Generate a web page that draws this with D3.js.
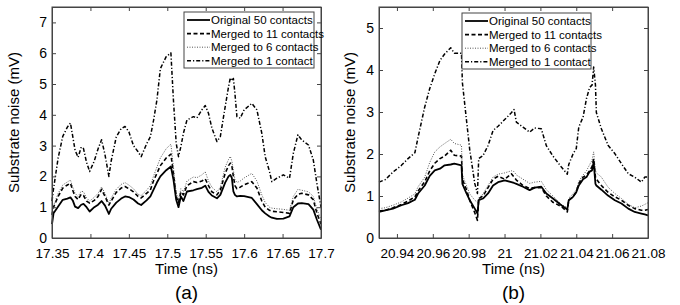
<!DOCTYPE html>
<html>
<head>
<meta charset="utf-8">
<script src="https://cdn.jsdelivr.net/npm/d3@7"></script>
<style>
  body { margin: 0; background: #fff; }
  svg text { font-family: "Liberation Sans", Arial, sans-serif; fill: #000; }
</style>
</head>
<body>
<svg id="chart"></svg>
<script>
// ---- data: panel (a) ----
const timeA = [17.350,17.352,17.358,17.364,17.370,17.374,17.377,17.380,17.384,17.388,17.391,17.395,17.399,17.405,17.410,17.4145,17.419,17.424,17.427,17.4336,17.440,17.445,17.450,17.456,17.462,17.466,17.473,17.478,17.482,17.4865,17.491,17.4986,17.5047,17.508,17.5116,17.5146,17.5177,17.521,17.5256,17.534,17.5386,17.545,17.5494,17.5536,17.558,17.5646,17.569,17.5753,17.5797,17.582,17.584,17.586,17.588,17.5906,17.5949,17.600,17.610,17.6166,17.623,17.6274,17.633,17.636,17.6426,17.651,17.659,17.664,17.670,17.675,17.6837,17.690,17.6946,17.700];
const origA  = [0.45,0.8,1.02,1.24,1.28,1.32,1.22,1.02,0.97,1.08,1.11,1.0,0.86,1.0,1.08,1.2,1.05,0.78,0.95,1.15,1.28,1.35,1.33,1.25,1.12,1.07,1.22,1.35,1.56,1.8,2.0,2.2,2.32,1.9,1.24,1.0,1.35,1.2,1.51,1.55,1.59,1.63,1.7,1.5,1.38,1.29,1.4,1.8,2.0,2.05,1.95,1.51,1.4,1.35,1.37,1.36,1.3,1.1,0.9,0.8,0.7,0.66,0.62,0.63,0.7,1.0,1.12,1.13,1.1,0.92,0.6,0.27];
const m11A   = [0.75,1.0,1.35,1.62,1.72,1.78,1.55,1.35,1.25,1.42,1.38,1.2,1.13,1.22,1.35,1.58,1.35,1.07,1.2,1.48,1.62,1.67,1.6,1.5,1.35,1.3,1.45,1.56,1.85,2.1,2.35,2.6,2.72,2.1,1.35,1.15,1.5,1.4,1.7,1.83,1.8,1.85,1.92,1.7,1.5,1.4,1.55,2.1,2.35,2.43,2.35,2.0,1.7,1.6,1.65,1.73,1.83,1.62,1.2,1.0,0.9,0.87,0.85,0.83,0.8,1.24,1.42,1.45,1.4,1.24,0.81,0.45];
const m6A    = [0.8,1.05,1.45,1.72,1.82,1.88,1.65,1.45,1.35,1.52,1.5,1.3,1.2,1.32,1.45,1.66,1.45,1.12,1.3,1.58,1.74,1.8,1.72,1.6,1.42,1.38,1.55,1.7,2.0,2.3,2.6,2.9,3.05,2.3,1.45,1.25,1.6,1.5,1.85,1.98,1.96,2.05,2.15,1.85,1.65,1.5,1.65,2.3,2.55,2.65,2.5,2.2,1.9,1.8,1.85,1.95,2.1,1.85,1.4,1.15,1.0,0.97,0.95,0.93,0.9,1.35,1.58,1.55,1.5,1.35,0.95,0.6];
const m1A    = [1.2,1.6,2.6,3.3,3.6,3.73,3.3,2.85,2.62,2.95,2.9,2.45,2.16,2.5,2.9,3.19,2.7,2.0,2.5,3.28,3.55,3.62,3.45,3.0,2.8,2.64,3.05,3.29,3.8,4.48,5.5,5.89,6.01,4.48,3.08,2.64,2.97,3.4,3.83,3.94,3.9,4.16,4.3,4.05,3.57,3.13,3.29,4.26,4.91,5.2,5.1,5.18,4.7,3.94,3.89,4.16,4.37,4.16,3.4,2.64,2.16,1.83,1.94,2.05,1.94,2.75,3.35,3.18,3.02,2.53,1.78,1.0];

// ---- data: panel (b) ----
const timeB = [20.930,20.9335,20.9378,20.9425,20.9462,20.950,20.9518,20.9555,20.9583,20.9611,20.964,20.9666,20.970,20.972,20.976,20.9765,20.9788,20.9806,20.9834,20.9849,20.9856,20.988,20.9908,20.9936,20.9964,21.0001,21.0038,21.0053,21.0066,21.0103,21.014,21.0168,21.0205,21.0233,21.027,21.0317,21.035,21.0358,21.0382,21.040,21.0414,21.0438,21.0457,21.0475,21.0488,21.0497,21.0507,21.0512,21.054,21.0577,21.0615,21.0652,21.069,21.0726,21.0763,21.0782,21.080];
const origB  = [0.62,0.66,0.70,0.78,0.83,0.91,1.06,1.25,1.48,1.61,1.65,1.73,1.75,1.77,1.73,1.29,1.06,0.9,0.70,0.58,0.9,0.94,1.06,1.25,1.33,1.37,1.33,1.31,1.29,1.22,1.14,1.20,1.22,1.06,0.94,0.78,0.68,0.90,0.98,1.09,1.25,1.4,1.45,1.58,1.61,1.81,1.29,1.25,1.15,1.01,0.90,0.82,0.70,0.62,0.58,0.56,0.54];
const m11B   = [0.64,0.66,0.72,0.8,0.88,0.98,1.12,1.34,1.6,1.78,1.89,1.95,2.09,1.97,1.95,1.4,1.15,0.9,0.6,0.42,0.94,1.0,1.2,1.4,1.47,1.4,1.53,1.45,1.38,1.25,1.18,1.2,1.2,1.0,0.85,0.75,0.62,0.9,0.98,1.1,1.3,1.45,1.5,1.6,1.7,1.89,1.45,1.4,1.25,1.09,0.98,0.9,0.78,0.70,0.66,0.66,0.68];
const m6B    = [0.7,0.72,0.78,0.86,0.95,1.05,1.22,1.45,1.8,2.05,2.17,2.25,2.35,2.25,2.21,1.5,1.25,1.05,0.9,0.85,0.95,1.05,1.25,1.45,1.52,1.55,1.6,1.58,1.5,1.4,1.3,1.33,1.35,1.15,1.0,0.8,0.72,0.95,1.05,1.15,1.35,1.5,1.6,1.75,1.85,2.05,1.6,1.55,1.45,1.21,1.06,0.94,0.8,0.72,0.76,0.8,0.84];
const m1B    = [1.33,1.39,1.57,1.73,1.89,2.03,2.40,3.12,3.56,3.91,4.23,4.38,4.53,4.40,4.40,3.7,2.8,2.1,1.3,1.06,1.89,1.96,2.2,2.56,2.66,2.82,2.98,3.06,2.76,2.64,2.52,2.62,2.60,2.2,1.95,1.69,1.52,1.75,2.0,2.13,2.64,2.88,3.32,3.59,3.64,4.07,3.64,2.99,2.60,2.21,2.01,1.77,1.53,1.45,1.33,1.45,1.45];

// ---- ticks / labels ----
const ticksXA = [17.35,17.4,17.45,17.5,17.55,17.6,17.65,17.7];
const ticksYA = [0,1,2,3,4,5,6,7];
const ticksXB = [20.94,20.96,20.98,21,21.02,21.04,21.06,21.08];
const ticksYB = [0,1,2,3,4,5];
const legendNames = ["Original 50 contacts","Merged to 11 contacts","Merged to 6 contacts","Merged to 1 contact"];

// line styles for the 4 series
const styles = [
  {dash: null,        width: 1.8, color: "#000"},
  {dash: "4,2.5",     width: 1.6, color: "#000"},
  {dash: "1,1.5",     width: 1.0, color: "#555"},
  {dash: "4,2,1.2,2", width: 1.5, color: "#000"}
];

const svg = d3.select("#chart").attr("width", 680).attr("height", 305);

function drawPanel(opt) {
    const x = d3.scaleLinear().domain(opt.xDomain).range([opt.left, opt.right]);
    const y = d3.scaleLinear().domain(opt.yDomain).range([opt.bottom, opt.top]);
    const g = svg.append("g");

    const line = d3.line()
        .x(function(d){ return x(d[0]); })
        .y(function(d){ return y(d[1]); });

    // draw dash-dot first, solid last
    [3, 1, 2, 0].forEach(function(k) {
        const pts = opt.time.map(function(t, i){ return [t, opt.series[k][i]]; });
        g.append("path")
            .datum(pts)
            .attr("fill", "none")
            .attr("stroke", styles[k].color)
            .attr("stroke-width", styles[k].width)
            .attr("stroke-dasharray", styles[k].dash)
            .attr("stroke-linejoin", "round")
            .attr("d", line);
    });

    // axes with inside ticks (matlab style), all four sides
    const fmt = function(d){ return String(+d.toFixed(2)); };
    const xAxisG = g.append("g").attr("transform", "translate(0," + opt.bottom + ")")
        .call(d3.axisBottom(x).tickValues(opt.ticksX).tickSizeInner(-4).tickSizeOuter(0).tickPadding(10).tickFormat(fmt));
    g.append("g").attr("transform", "translate(0," + opt.top + ")")
        .call(d3.axisTop(x).tickValues(opt.ticksX).tickSizeInner(-4).tickSizeOuter(0).tickFormat(""));
    const yAxisG = g.append("g").attr("transform", "translate(" + opt.left + ",0)")
        .call(d3.axisLeft(y).tickValues(opt.ticksY).tickSizeInner(-4).tickSizeOuter(0).tickPadding(5).tickFormat(fmt));
    g.append("g").attr("transform", "translate(" + opt.right + ",0)")
        .call(d3.axisRight(y).tickValues(opt.ticksY).tickSizeInner(-4).tickSizeOuter(0).tickFormat(""));
    g.selectAll(".domain").attr("stroke", "#444");
    g.selectAll(".tick line").attr("stroke", "#444");
    xAxisG.selectAll(".tick text").style("font-size", "13.5px").attr("fill", "#000");
    yAxisG.selectAll(".tick text").style("font-size", "14px").attr("fill", "#000");

    g.append("rect")
        .attr("x", opt.left).attr("y", opt.top)
        .attr("width", opt.right - opt.left).attr("height", opt.bottom - opt.top)
        .attr("fill", "none").attr("stroke", "#444").attr("stroke-width", 1);

    g.append("text")
        .attr("x", (opt.left + opt.right) / 2).attr("y", opt.bottom + 35.5)
        .attr("text-anchor", "middle").style("font-size", "15px")
        .text("Time (ns)");
    g.append("text")
        .attr("transform", "translate(" + opt.ylabelX + "," + ((opt.top + opt.bottom) / 2) + ") rotate(-90)")
        .attr("text-anchor", "middle").attr("dy", "0.35em").style("font-size", "15px")
        .text("Substrate noise (mV)");
    g.append("text")
        .attr("x", (opt.left + opt.right) / 2).attr("y", opt.bottom + 61)
        .attr("text-anchor", "middle").style("font-size", "19px")
        .text(opt.caption);

    // legend
    const lg = g.append("g").attr("transform", "translate(" + opt.legend[0] + "," + opt.legend[1] + ")");
    lg.append("rect").attr("width", opt.legend[2]).attr("height", 56)
        .attr("fill", "#fff").attr("stroke", "#444").attr("stroke-width", 1);
    legendNames.forEach(function(name, k) {
        const yy = 8 + k * 13.6;
        lg.append("line").attr("x1", 3).attr("x2", 26).attr("y1", yy).attr("y2", yy)
            .attr("stroke", styles[k].color).attr("stroke-width", styles[k].width)
            .attr("stroke-dasharray", styles[k].dash);
        lg.append("text").attr("x", 27).attr("y", yy).attr("dy", "0.35em")
            .style("font-size", "11.5px").text(name);
    });
}

drawPanel({
    xDomain: [17.35, 17.7], yDomain: [0, 7.5],
    left: 52, right: 321, top: 7, bottom: 238,
    time: timeA, series: [origA, m11A, m6A, m1A],
    ticksX: ticksXA, ticksY: ticksYA,
    ylabelX: 14, caption: "(a)", legend: [184, 12, 130]
});

drawPanel({
    xDomain: [20.93, 21.08], yDomain: [0, 5.5],
    left: 379, right: 648, top: 7, bottom: 238,
    time: timeB, series: [origB, m11B, m6B, m1B],
    ticksX: ticksXB, ticksY: ticksYB,
    ylabelX: 350, caption: "(b)", legend: [462, 13, 129]
});
</script>
</body>
</html>
